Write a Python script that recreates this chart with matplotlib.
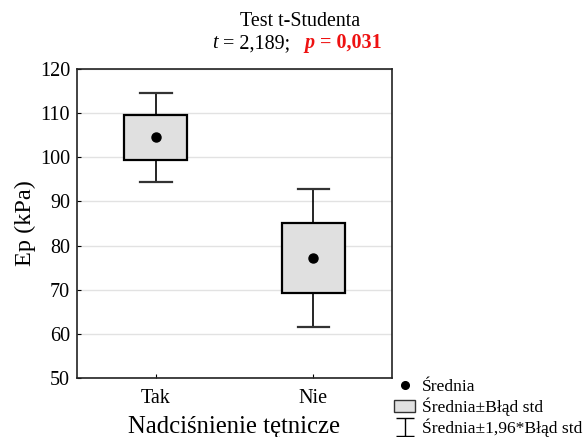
import numpy as np
import matplotlib.pyplot as plt
from matplotlib.lines import Line2D
from matplotlib.patches import Patch, Rectangle
from matplotlib.path import Path

plt.rcParams['font.family'] = ['Liberation Serif', 'DejaVu Serif']

groups = ["Tak", "Nie"]
means = [104.5, 77.25]
se = [5.1, 7.95]
ci = [10.0, 15.6]  # 1.96 * SE

W, H = 584, 437
fig = plt.figure(figsize=(W / 100, H / 100), dpi=100)
ax = fig.add_axes([77 / W, 1 - 378 / H, (392 - 77) / W, (378 - 69) / H])

x = np.arange(len(groups))
box_w = 0.4
cap_w = 0.2
for xi, m, s, c in zip(x, means, se, ci):
    ax.plot([xi, xi], [m + s, m + c], color="black", lw=1.2, zorder=2)
    ax.plot([xi, xi], [m - s, m - c], color="black", lw=1.2, zorder=2)
    ax.plot([xi - cap_w / 2, xi + cap_w / 2], [m + c] * 2, color="#333333", lw=1.6, zorder=2)
    ax.plot([xi - cap_w / 2, xi + cap_w / 2], [m - c] * 2, color="#333333", lw=1.6, zorder=2)
    ax.add_patch(Rectangle((xi - box_w / 2, m - s), box_w, 2 * s,
                           facecolor="#e0e0e0", edgecolor="black", lw=1.6, zorder=3))
    ax.plot(xi, m, "o", color="black", ms=6.5, zorder=4)

ax.set_xlim(-0.5, 1.5)
ax.set_ylim(50, 120)
ax.set_yticks(np.arange(50, 121, 10))
ax.set_xticks(x)
ax.set_xticklabels(groups)
ax.yaxis.grid(True, color="#e2e2e2", lw=1)
ax.set_axisbelow(True)
ax.tick_params(direction="in", labelsize=14.5, length=3, pad=5)
ax.tick_params(axis="x", pad=8)
for sp in ax.spines.values():
    sp.set_linewidth(1.2)
    sp.set_color("#222222")
ax.set_ylabel("Ep (kPa)", fontsize=17.5, va="center")
ax.yaxis.set_label_coords(-52 / 315, 0.5)
ax.set_xlabel("Nadciśnienie tętnicze", fontsize=17.8, va="center")
ax.xaxis.set_label_coords(0.5, -49 / 309)

# title
fig.text(300 / W, 1 - 22 / H, "Test t-Studenta", ha="center", va="center", fontsize=14.4)
t1 = ax.annotate("t", xy=(212 / W, 1 - 53 / H), xycoords="figure fraction",
                 ha="left", va="bottom", fontsize=14.5, style="italic", annotation_clip=False)
t2 = ax.annotate(" = 2,189;   ", xy=(1, 0), xycoords=t1, va="bottom", fontsize=14.5,
                 annotation_clip=False)
t3 = ax.annotate("p", xy=(1, 0), xycoords=t2, va="bottom", fontsize=14.5,
                 color="#ee1111", style="italic", weight="bold", annotation_clip=False)
ax.annotate(" = 0,031", xy=(1, 0), xycoords=t3, va="bottom", fontsize=14.5,
            color="#ee1111", weight="bold", annotation_clip=False)

# legend
ibeam = Path([(-1, 1), (1, 1), (0, 1), (0, -1), (-1, -1), (1, -1)],
             [Path.MOVETO, Path.LINETO, Path.MOVETO, Path.LINETO, Path.MOVETO, Path.LINETO])
handles = [
    Line2D([], [], marker="o", color="black", ls="none", ms=5.5),
    Patch(facecolor="#e0e0e0", edgecolor="#333333"),
    Line2D([], [], marker=ibeam, color="black", ls="none", ms=13, markerfacecolor="none", mew=1),
]
labels = ["Średnia", "Średnia±Błąd std", "Średnia±1,96*Błąd std"]
fig.legend(handles, labels, loc="lower left", bbox_to_anchor=(388 / W, -0.014),
           frameon=False, fontsize=12.6, handlelength=1.2, handletextpad=0.4,
           labelspacing=0.15, borderaxespad=0.15, borderpad=0.2)

fig.savefig("out.png", dpi=100)
